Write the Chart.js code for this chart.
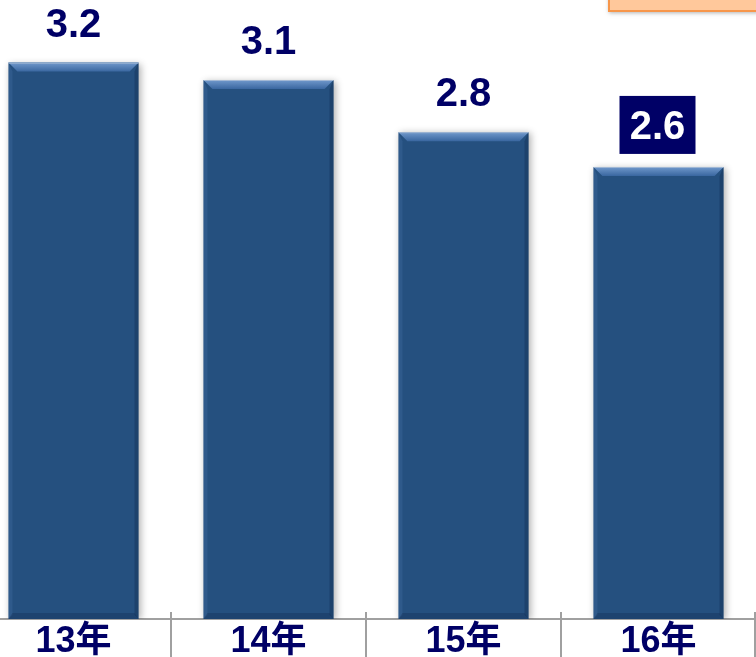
<!DOCTYPE html>
<html>
<head>
<meta charset="utf-8">
<script src="https://cdn.jsdelivr.net/npm/chart.js@4/dist/chart.umd.min.js"></script>
<style>
    html, body { margin: 0; padding: 0; background: #fff; overflow: hidden; }
    #wrap { position: absolute; left: -24px; top: 0; width: 780px; height: 657px; }
</style>
</head>
<body>
<div id="wrap"><canvas id="ctx"></canvas></div>
<script>
const categories = ['13年', '14年', '15年', '16年'];
const values = [3.2, 3.1, 2.8, 2.6];
const valueLabels = ['3.2', '3.1', '2.8', '2.6'];
const boxedIndex = 3;

const navy = '#000066';
const font = '"Liberation Sans", Arial, "Noto Sans CJK SC", sans-serif';

// bevel + labels + decorations
const bevelPlugin = {
    id: 'bevel',
    beforeDatasetsDraw: function (chart) {
        let ctx = chart.ctx;
        ctx.save();
        ctx.shadowColor = 'rgba(0,0,0,0.3)';
        ctx.shadowBlur = 7;
        ctx.shadowOffsetX = 2;
        ctx.shadowOffsetY = 1;
    },
    afterDatasetsDraw: function (chart) {
        let ctx = chart.ctx;
        ctx.restore();
        let meta = chart.getDatasetMeta(0);
        meta.data.forEach(function (bar, i) {
            let x0 = bar.x - bar.width / 2, x1 = bar.x + bar.width / 2,
                y0 = bar.y, y1 = bar.base, b = 9, s = 4;
            // top
            let g = ctx.createLinearGradient(0, y0, 0, y0 + b);
            g.addColorStop(0, '#7199cc');
            g.addColorStop(1, '#3a67a0');
            ctx.fillStyle = g;
            ctx.beginPath();
            ctx.moveTo(x0, y0); ctx.lineTo(x1, y0); ctx.lineTo(x1 - b, y0 + b); ctx.lineTo(x0 + b, y0 + b);
            ctx.closePath(); ctx.fill();
            // left
            ctx.fillStyle = 'rgba(80,120,175,0.25)';
            ctx.beginPath();
            ctx.moveTo(x0, y0); ctx.lineTo(x0 + s, y0 + b); ctx.lineTo(x0 + s, y1 - s); ctx.lineTo(x0, y1);
            ctx.closePath(); ctx.fill();
            // right
            ctx.fillStyle = 'rgba(15,40,75,0.35)';
            ctx.beginPath();
            ctx.moveTo(x1, y0); ctx.lineTo(x1 - s, y0 + b); ctx.lineTo(x1 - s, y1 - s); ctx.lineTo(x1, y1);
            ctx.closePath(); ctx.fill();
            // bottom
            ctx.fillStyle = 'rgba(15,40,75,0.3)';
            ctx.beginPath();
            ctx.moveTo(x0, y1); ctx.lineTo(x0 + s, y1 - 6); ctx.lineTo(x1 - s, y1 - 6); ctx.lineTo(x1, y1);
            ctx.closePath(); ctx.fill();
            ctx.fillStyle = 'rgba(170,190,215,0.9)';
            ctx.fillRect(x0, y0, x1 - x0, 1);

            // value label
            ctx.font = 'bold 40px ' + font;
            ctx.textAlign = 'center';
            ctx.textBaseline = 'alphabetic';
            if (i === boxedIndex) {
                ctx.fillStyle = navy;
                ctx.fillRect(bar.x - 39, y0 - 71, 76, 58);
                ctx.fillStyle = '#ffffff';
                ctx.fillText(valueLabels[i], bar.x - 1, y0 - 28);
            } else {
                ctx.fillStyle = navy;
                ctx.fillText(valueLabels[i], bar.x, y0 - 26);
            }
        });

        // crossing tick marks between categories
        let xs = chart.scales.x, area = chart.chartArea;
        let step = xs.getPixelForValue(1) - xs.getPixelForValue(0);
        ctx.strokeStyle = '#a0a0a0';
        ctx.lineWidth = 2;
        for (let i = 0; i < categories.length; i++) {
            let px = Math.min(xs.getPixelForValue(i) + step / 2, xs.right - 1);
            ctx.beginPath();
            ctx.moveTo(px, area.bottom - 7);
            ctx.lineTo(px, chart.height);
            ctx.stroke();
        }

        // orange note box at the top right
        ctx.save();
        ctx.shadowColor = 'rgba(0,0,0,0.3)';
        ctx.shadowBlur = 4;
        ctx.shadowOffsetY = 2;
        ctx.fillStyle = '#ffc89b';
        ctx.fillRect(633, -10, 160, 21);
        ctx.restore();
        ctx.strokeStyle = '#f7964a';
        ctx.lineWidth = 2;
        ctx.strokeRect(633, -10, 160, 21);
    }
};

new Chart(document.getElementById('ctx'), {
    type: 'bar',
    data: {
        labels: categories,
        datasets: [{
            data: values,
            backgroundColor: '#25507f',
            borderWidth: 0,
            categoryPercentage: 1,
            barPercentage: 0.667
        }]
    },
    options: {
        responsive: true,
        maintainAspectRatio: false,
        animation: false,
        layout: {padding: 0},
        plugins: {legend: {display: false}, tooltip: {enabled: false}},
        scales: {
            x: {
                offset: true,
                grid: {display: false},
                border: {display: true, color: '#a0a0a0', width: 2},
                ticks: {color: navy, font: {family: font, size: 36, weight: 'bold'}, padding: -7},
                afterFit: function (scale) {
                    scale.height = 38;
                }
            },
            y: {
                display: false,
                min: 0,
                max: 3.56
            }
        }
    },
    plugins: [bevelPlugin]
});
</script>
</body>
</html>
